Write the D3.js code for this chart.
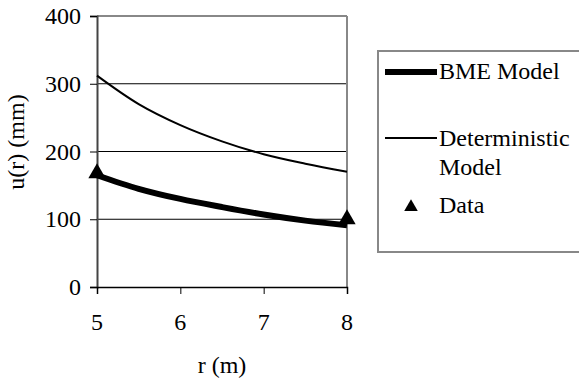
<!DOCTYPE html>
<html>
<head>
<meta charset="utf-8">
</head>
<body style="margin:0">
<script src="https://d3js.org/d3.v7.min.js"></script>
<script>
// values
var rValues = [5, 5.5, 6, 6.5, 7, 7.5, 8];
var bmeValues = [165, 145, 130, 118, 107, 98, 91];
var detValues = [312, 270, 239, 215, 196, 182, 170];
var dataR = [5, 8];
var dataU = [168, 100];
var yTicks = [0, 100, 200, 300, 400];
var xTicks = [5, 6, 7, 8];

var W = 579, H = 383;
var plotL = 97, plotR = 347, plotT = 16, plotB = 287;
var fam = 'Tinos, "Liberation Serif", "Times New Roman", serif';

var svg = d3.select('body').append('svg')
    .attr('width', W)
    .attr('height', H)
    .style('font-family', fam)
    .style('font-size', '24px');

var x = d3.scaleLinear().domain([5, 8]).range([plotL, plotR]);
var y = d3.scaleLinear().domain([0, 400]).range([plotB, plotT]);

function label(parent, px, py, str) {
    return parent.append('text')
        .style('font-family', fam)
        .style('font-size', '24px')
        .attr('x', px).attr('y', py)
        .text(str);
}

// gridlines
svg.append('g').selectAll('line')
    .data(yTicks.filter(function(d) { return d > 0 && d < 400; }))
    .enter().append('line')
    .attr('x1', plotL).attr('x2', plotR)
    .attr('y1', function(d) { return y(d); })
    .attr('y2', function(d) { return y(d); })
    .attr('stroke', '#000').attr('stroke-width', 1);

// plot frame (top and right in grey)
svg.append('line').attr('x1', plotL).attr('x2', plotR).attr('y1', plotT).attr('y2', plotT)
    .attr('stroke', '#888').attr('stroke-width', 2);
svg.append('line').attr('x1', plotR).attr('x2', plotR).attr('y1', plotT).attr('y2', plotB)
    .attr('stroke', '#888').attr('stroke-width', 2);

// axes: lines from d3.axis, labels drawn as plain texts
var yAxis = svg.append('g')
    .attr('transform', 'translate(' + plotL + ',0)')
    .call(d3.axisLeft(y).tickValues(yTicks).tickSize(7).tickFormat(''));
var xAxis = svg.append('g')
    .attr('transform', 'translate(0,' + plotB + ')')
    .call(d3.axisBottom(x).tickValues(xTicks).tickSize(7).tickFormat(''));
yAxis.selectAll('.tick text').remove();
xAxis.selectAll('.tick text').remove();
yAxis.select('.domain').attr('stroke', '#444').attr('stroke-width', 2);
xAxis.select('.domain').attr('stroke', '#000').attr('stroke-width', 1.5);
svg.selectAll('.tick line').attr('stroke', '#000');

yTicks.forEach(function(d) {
    label(svg, plotL - 16, y(d) + 8, String(d)).attr('text-anchor', 'end');
});
xTicks.forEach(function(d) {
    label(svg, x(d), 330, String(d)).attr('text-anchor', 'middle');
});

// axis titles
label(svg, (plotL + plotR) / 2, 373, 'r (m)').attr('text-anchor', 'middle');
label(svg, 0, 0, 'u(r) (mm)')
    .attr('transform', 'translate(24,142) rotate(-90)')
    .attr('text-anchor', 'middle');

// curves
var line = d3.line().curve(d3.curveCatmullRom)
    .x(function(d) { return x(d[0]); })
    .y(function(d) { return y(d[1]); });

svg.append('path')
    .datum(d3.zip(rValues, detValues))
    .attr('d', line)
    .attr('fill', 'none').attr('stroke', '#000').attr('stroke-width', 2);

svg.append('path')
    .datum(d3.zip(rValues, bmeValues))
    .attr('d', line)
    .attr('fill', 'none').attr('stroke', '#000').attr('stroke-width', 6);

// data markers
var tri = d3.symbol().type(d3.symbolTriangle).size(130);
svg.append('g').selectAll('path')
    .data(d3.zip(dataR, dataU))
    .enter().append('path')
    .attr('d', tri)
    .attr('transform', function(d) { return 'translate(' + x(d[0]) + ',' + y(d[1]) + ')'; })
    .attr('fill', '#000');

// legend
var lg = svg.append('g');
lg.append('rect')
    .attr('x', 378).attr('y', 51).attr('width', 203).attr('height', 201)
    .attr('fill', '#fff').attr('stroke', '#888').attr('stroke-width', 2);

lg.append('line').attr('x1', 385).attr('x2', 437).attr('y1', 72).attr('y2', 72)
    .attr('stroke', '#000').attr('stroke-width', 6);
label(lg, 439, 79, 'BME Model');

lg.append('line').attr('x1', 385).attr('x2', 437).attr('y1', 138).attr('y2', 138)
    .attr('stroke', '#000').attr('stroke-width', 2);
label(lg, 439, 146, 'Deterministic');
label(lg, 439, 175, 'Model');

lg.append('path')
    .attr('d', d3.symbol().type(d3.symbolTriangle).size(80))
    .attr('transform', 'translate(411,207)')
    .attr('fill', '#000');
label(lg, 439, 213, 'Data');
</script>
</body>
</html>
